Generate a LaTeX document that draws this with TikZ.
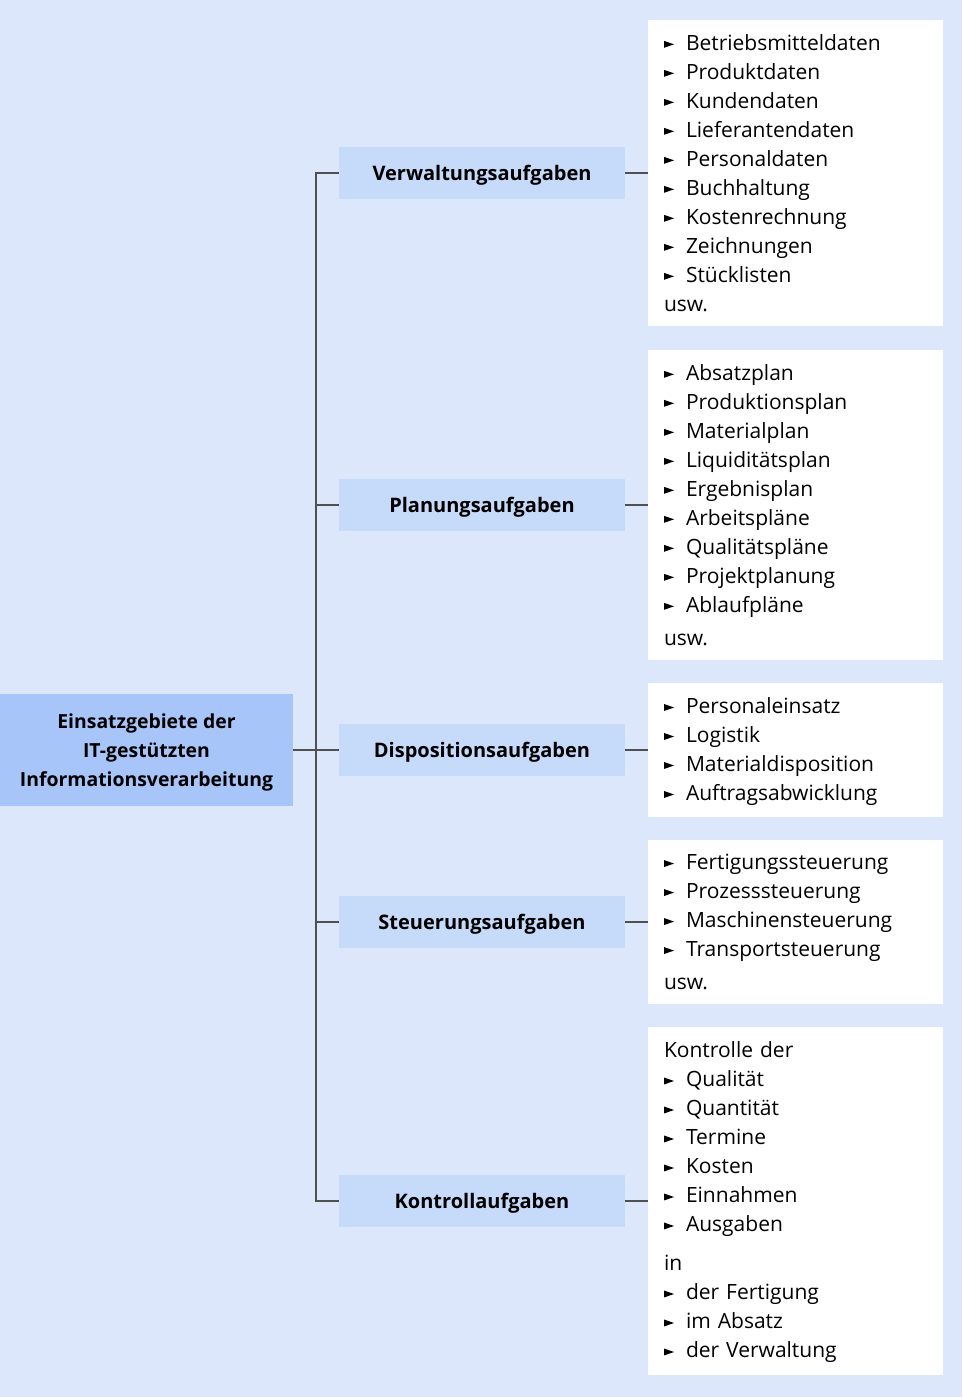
\documentclass[tikz,border=0pt]{standalone}
\usepackage{fontspec}
\setmainfont{Open Sans}
\usetikzlibrary{positioning}

\definecolor{bgblue}{HTML}{DDE7FC}
\definecolor{mainblue}{HTML}{A7C5F8}
\definecolor{taskblue}{HTML}{C6DAFA}
\definecolor{linegray}{HTML}{505050}

\newcommand{\itm}{\makebox[22pt][l]{\tikz[baseline=-2.5pt]\fill (0pt,0pt) -- (10pt,3.5pt) -- (0pt,7pt) -- cycle;}}

\begin{document}
\begin{tikzpicture}[x=1pt, y=-1pt]
    % Styles
    \tikzstyle{mainbox} = [fill=mainblue, minimum width=293pt, minimum height=112pt, align=center, font=\bfseries\fontsize{19.4}{29}\selectfont]
    \tikzstyle{taskbox} = [fill=taskblue, minimum width=286pt, minimum height=52pt, text height=14pt, text depth=0pt, font=\bfseries\fontsize{20}{24}\selectfont]
    \tikzstyle{listbox} = [fill=white, text width=263pt, inner xsep=16pt, inner ysep=0pt, align=left, font=\fontsize{21}{29}\selectfont]
    \tikzstyle{line} = [draw=linegray, line width=1.3pt]

    % Background
    \fill[bgblue] (0,0) rectangle (962,1397);
    \useasboundingbox (0,0) rectangle (962,1400);

    % Nodes
    \node[mainbox] (main) at (146.5,750) {\rule{0pt}{20.5pt}Einsatzgebiete der\\IT-gestützten\\Informationsverarbeitung};

    \node[taskbox] (verw) at (482,173) {Verwaltungsaufgaben};
    \node[taskbox] (plan) at (482,505) {Planungsaufgaben};
    \node[taskbox] (dispo) at (482,750) {Dispositionsaufgaben};
    \node[taskbox] (steuer) at (482,922) {Steuerungsaufgaben};
    \node[taskbox] (kontr) at (482,1201) {Kontrollaufgaben};

    \node[listbox, minimum height=306pt] (verwlist) at (795.5,173) {\itm Betriebsmitteldaten\\\itm Produktdaten\\\itm Kundendaten\\\itm Lieferantendaten\\\itm Personaldaten\\\itm Buchhaltung\\\itm Kostenrechnung\\\itm Zeichnungen\\\itm Stücklisten\\usw.};
    \node[listbox, minimum height=310pt] (planlist) at (795.5,505) {\itm Absatzplan\\\itm Produktionsplan\\\itm Materialplan\\\itm Liquiditätsplan\\\itm Ergebnisplan\\\itm Arbeitspläne\\\itm Qualitätspläne\\\itm Projektplanung\\\itm Ablaufpläne\\[4pt]usw.};
    \node[listbox, minimum height=134pt] (dispolist) at (795.5,750) {\rule{0pt}{19pt}\itm Personaleinsatz\\\itm Logistik\\\itm Materialdisposition\\\itm Auftragsabwicklung};
    \node[listbox, minimum height=164pt] (steuerlist) at (795.5,922) {\itm Fertigungssteuerung\\\itm Prozesssteuerung\\\itm Maschinensteuerung\\\itm Transportsteuerung\\[4pt]usw.};
    \node[listbox, minimum height=348pt] (kontrlist) at (795.5,1201) {\rule{0pt}{19pt}Kontrolle der\\\itm Qualität\\\itm Quantität\\\itm Termine\\\itm Kosten\\\itm Einnahmen\\\itm Ausgaben\\[10pt]in\\\itm der Fertigung\\\itm im Absatz\\\itm der Verwaltung};

    % Tree lines
    \coordinate (trunk) at (316,750);
    \draw[line] (main) -- (trunk);
    \foreach \task in {verw,plan,dispo,steuer,kontr}
        \draw[line] (trunk) |- (\task);
    \foreach \task/\list in {verw/verwlist,plan/planlist,dispo/dispolist,steuer/steuerlist,kontr/kontrlist}
        \draw[line] (\task) -- (\list);
\end{tikzpicture}
\end{document}
